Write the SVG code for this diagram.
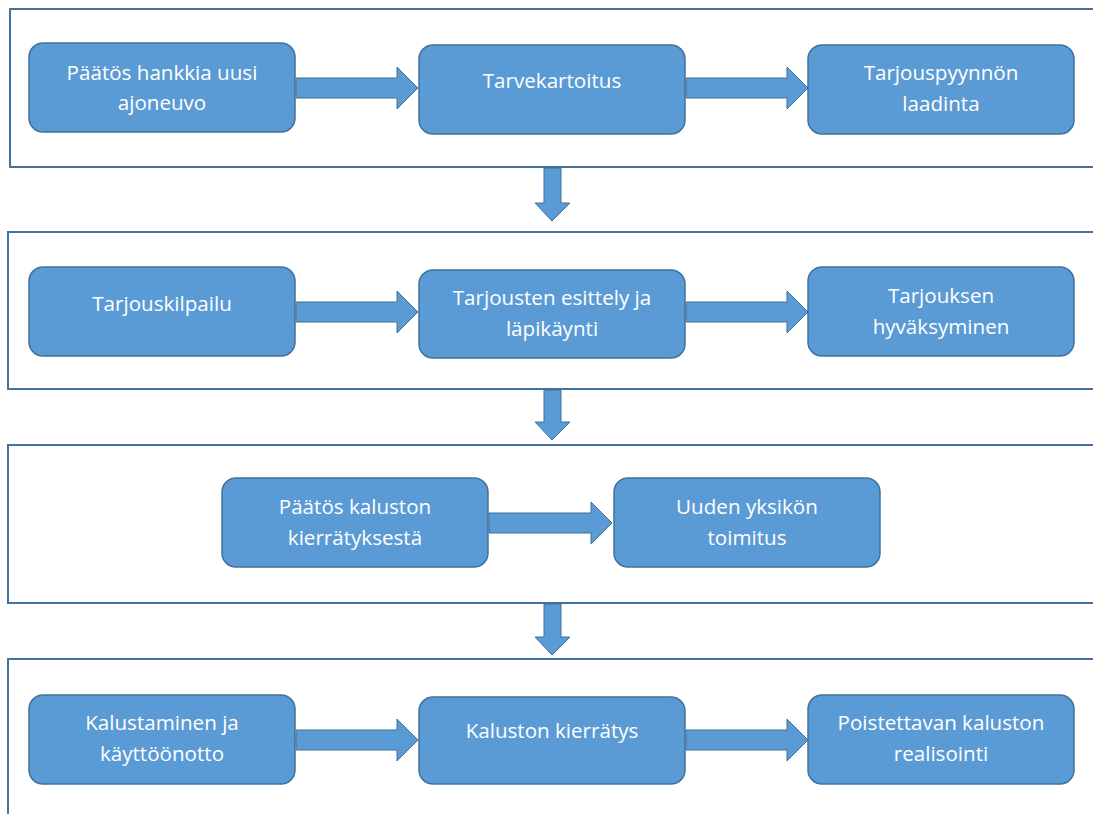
<svg xmlns="http://www.w3.org/2000/svg" width="1093" height="814" viewBox="0 0 1093 814">
<style>
.panel{fill:#fff;stroke:#41719C;stroke-width:2}
.box{fill:#5B9BD5;stroke:#41719C;stroke-width:1.5}
.arr{fill:#5B9BD5;stroke:#41719C;stroke-width:1}
text{font-family:"Open Sans","Liberation Sans",sans-serif;font-size:20.6px;fill:#fff;text-anchor:middle}
</style>
<rect width="1093" height="814" fill="#fff"/>
<g id="panels">
<path class="panel" d="M1100 9H10V167H1100"/>
<path class="panel" d="M1100 232H8V389H1100"/>
<path class="panel" d="M1100 445H8V603H1100"/>
<path class="panel" d="M1100 659H8V820"/>
</g>
<g id="connectors">
<path class="arr" d="M296 78H397V67L418 88L397 109V98H296Z"/>
<path class="arr" d="M686 78H787V67L808 88L787 109V98H686Z"/>
<path class="arr" d="M296 302H397V291L418 312L397 333V322H296Z"/>
<path class="arr" d="M686 302H787V291L808 312L787 333V322H686Z"/>
<path class="arr" d="M489 513H591V502L612 523L591 544V533H489Z"/>
<path class="arr" d="M296 730H397V719L418 740L397 761V750H296Z"/>
<path class="arr" d="M686 730H787V719L808 740L787 761V750H686Z"/>
<path class="arr" d="M544 168V203H535L552 221L570 203H561V168Z"/>
<path class="arr" d="M544 390V422H535L552 440L570 422H561V390Z"/>
<path class="arr" d="M544 604V637H535L552 655L570 637H561V604Z"/>
</g>
<g id="n1"><rect class="box" x="29" y="43" width="266" height="89" rx="14"/><text x="162" y="80">Päätös hankkia uusi</text><text x="162" y="110">ajoneuvo</text></g>
<g id="n2"><rect class="box" x="419" y="45" width="266" height="89" rx="14"/><text x="552" y="88">Tarvekartoitus</text></g>
<g id="n3"><rect class="box" x="808" y="45" width="266" height="89" rx="14"/><text x="941" y="80">Tarjouspyynnön</text><text x="941" y="111">laadinta</text></g>
<g id="n4"><rect class="box" x="29" y="267" width="266" height="89" rx="14"/><text x="162" y="311">Tarjouskilpailu</text></g>
<g id="n5"><rect class="box" x="419" y="270" width="266" height="88" rx="14"/><text x="552" y="305">Tarjousten esittely ja</text><text x="552" y="336">läpikäynti</text></g>
<g id="n6"><rect class="box" x="808" y="267" width="266" height="89" rx="14"/><text x="941" y="303">Tarjouksen</text><text x="941" y="334">hyväksyminen</text></g>
<g id="n7"><rect class="box" x="222" y="478" width="266" height="89" rx="14"/><text x="355" y="514">Päätös kaluston</text><text x="355" y="545">kierrätyksestä</text></g>
<g id="n8"><rect class="box" x="614" y="478" width="266" height="89" rx="14"/><text x="747" y="514">Uuden yksikön</text><text x="747" y="545">toimitus</text></g>
<g id="n9"><rect class="box" x="29" y="695" width="266" height="89" rx="14"/><text x="162" y="730">Kalustaminen ja</text><text x="162" y="761">käyttöönotto</text></g>
<g id="n10"><rect class="box" x="419" y="697" width="266" height="87" rx="14"/><text x="552" y="738">Kaluston kierrätys</text></g>
<g id="n11"><rect class="box" x="808" y="695" width="266" height="89" rx="14"/><text x="941" y="730">Poistettavan kaluston</text><text x="941" y="761">realisointi</text></g>
</svg>
